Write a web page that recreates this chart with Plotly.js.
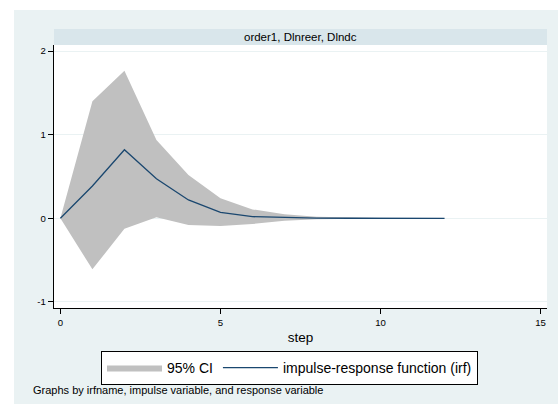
<!DOCTYPE html>
<html>
<head>
<meta charset="utf-8">
<script src="https://cdn.plot.ly/plotly-3.0.1.min.js"></script>
<style>html,body{margin:0;padding:0;background:#fff;}#chart{width:558px;height:404px;}</style>
</head>
<body>
<div id="chart"></div>
<script>
// Data
const steps = [0, 1, 2, 3, 4, 5, 6, 7, 8, 9, 10, 11, 12];
const irf   = [0, 0.386, 0.82, 0.474, 0.22, 0.07, 0.02, 0.007, 0.002, 0.001, 0, 0, 0];
const ciUpper = [0, 1.40, 1.763, 0.935, 0.517, 0.239, 0.107, 0.05, 0.02, 0.008, 0.003, 0.001, 0.0005];
const ciLower = [0, -0.61, -0.124, 0.012, -0.08, -0.092, -0.068, -0.03, -0.012, -0.005, -0.002, -0.001, -0.0005];
const xTicks = [0, 5, 10, 15];
const yTicks = [-1, 0, 1, 2];
const panelTitle = "order1, Dlnreer, Dlndc";
const ciName = "95% CI";
const irfName = "impulse-response function (irf)";
const xTitle = "step";
const noteText = "Graphs by irfname, impulse variable, and response variable";

const FONT = "Liberation Sans, Arial, Helvetica, sans-serif";
const W = 558, H = 404;
const L = 54, R = 11, T = 45, B = 96;
const pw = W - L - R, ph = H - T - B;
const px = x => (x - L) / pw;           // pixel -> paper x
const py = y => (H - B - y) / ph;       // pixel -> paper y

const traces = [
  {x: steps, y: ciLower, type: "scatter", mode: "lines", line: {width: 0, color: "#c0c0c0"},
   showlegend: false, hoverinfo: "skip"},
  {x: steps, y: ciUpper, type: "scatter", mode: "lines", fill: "tonexty", fillcolor: "#c0c0c0",
   line: {width: 0, color: "#c0c0c0"}, name: ciName},
  {x: steps, y: irf, type: "scatter", mode: "lines", line: {width: 1.3, color: "#1a476f"}, name: irfName}
];

const layout = {
  width: W, height: H,
  margin: {l: L, r: R, t: T, b: B, pad: 0},
  paper_bgcolor: "#eaf2f3",
  plot_bgcolor: "#ffffff",
  font: {family: FONT, color: "#000"},
  showlegend: true,
  legend: {
    orientation: "h", x: px(289.5), xanchor: "center", y: py(351), yanchor: "top",
    bgcolor: "#ffffff", bordercolor: "#000000", borderwidth: 1,
    font: {family: FONT, size: 14, color: "#000"}, traceorder: "normal",
    itemwidth: 55
  },
  xaxis: {
    range: [-0.2, 15.2], tickvals: xTicks, ticktext: xTicks.map(String),
    showgrid: false, zeroline: false, showline: true, linecolor: "#000", linewidth: 1.2,
    ticks: "outside", ticklen: 5, tickcolor: "#000", tickwidth: 1,
    tickfont: {family: FONT, size: 9.6, color: "#000"},
    title: {text: xTitle, font: {family: FONT, size: 13.5, color: "#000"}, standoff: 5}
  },
  yaxis: {
    range: [-1.072, 2.072], tickvals: yTicks, ticktext: yTicks.map(String),
    showgrid: true, gridcolor: "#eaf2f3", gridwidth: 1, zeroline: false,
    showline: true, linecolor: "#000", linewidth: 1.2,
    ticks: "outside", ticklen: 5, tickcolor: "#000", tickwidth: 1,
    tickfont: {family: FONT, size: 9.6, color: "#000"}
  },
  shapes: [
    // white margins outside Stata's graph region
    {type: "rect", xref: "paper", yref: "paper", x0: px(-5), x1: px(14), y0: py(410), y1: py(-5),
     fillcolor: "#ffffff", line: {width: 0}, layer: "below"},
    {type: "rect", xref: "paper", yref: "paper", x0: px(-5), x1: px(565), y0: py(10), y1: py(-5),
     fillcolor: "#ffffff", line: {width: 0}, layer: "below"},
    // panel strip
    {type: "rect", xref: "paper", yref: "paper", x0: 0, x1: 1, y0: py(45), y1: py(29),
     fillcolor: "#d9e6eb", line: {width: 0}, layer: "below"}
  ],
  annotations: [
    {text: panelTitle, xref: "paper", yref: "paper", x: 0.5, y: py(37), xanchor: "center", yanchor: "middle",
     showarrow: false, font: {family: FONT, size: 11.5, color: "#000"}},
    {text: noteText, xref: "paper", yref: "paper", x: px(31), y: py(390), xanchor: "left", yanchor: "middle",
     showarrow: false, font: {family: FONT, size: 11, color: "#000"}}
  ]
};

Plotly.newPlot("chart", traces, layout, {displayModeBar: false, staticPlot: true});
</script>
</body>
</html>
